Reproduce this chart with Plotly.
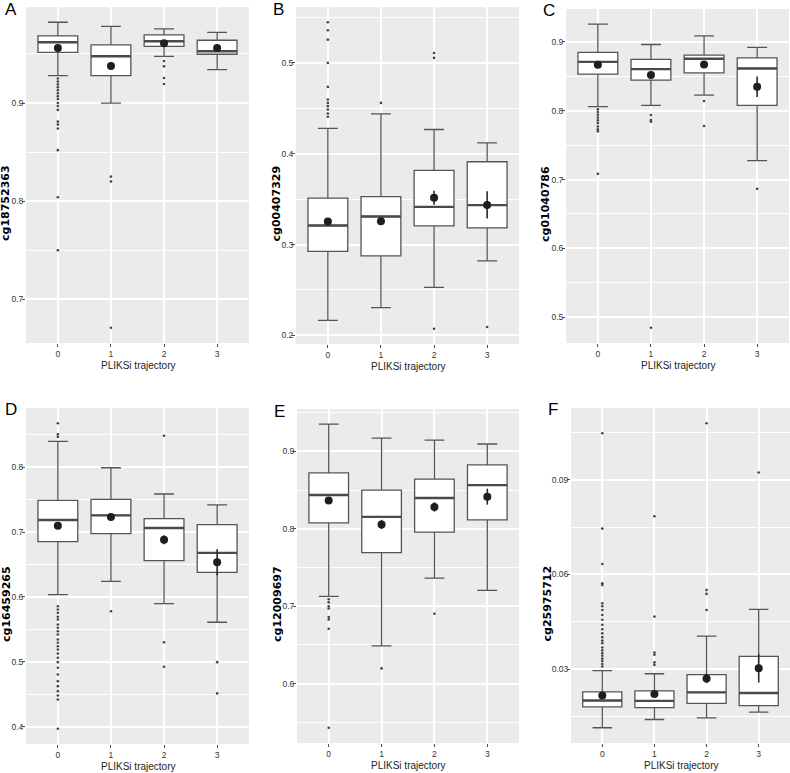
import plotly.graph_objects as go

W, H = 790, 773

cats = [0, 1, 2, 3]
x_title = "PLIKSi trajectory"
letters = ["A", "B", "C", "D", "E", "F"]
y_titles = ["cg18752363", "cg00407329", "cg01040786",
            "cg16459265", "cg12009697", "cg25975712"]

# panel A
a_q1 = [0.9517, 0.9279, 0.9578, 0.9497]
a_med = [0.9619, 0.9476, 0.9630, 0.9527]
a_q3 = [0.9684, 0.9592, 0.9694, 0.9640]
a_lo = [0.9280, 0.9000, 0.9476, 0.9340]
a_hi = [0.9823, 0.9782, 0.9755, 0.9721]
a_mean = [0.9561, 0.9378, 0.9609, 0.9561]
a_se = [0.0015, 0.003, 0.002, 0.002]
a_out = [[0.925, 0.922, 0.919, 0.916, 0.913, 0.910, 0.907, 0.904, 0.900,
          0.897, 0.893, 0.881, 0.878, 0.874, 0.852, 0.804, 0.750],
         [0.825, 0.820, 0.671],
         [0.9429, 0.9374, 0.9255, 0.9194],
         []]

# panel B
b_q1 = [0.2926, 0.2875, 0.3206, 0.3184]
b_med = [0.3210, 0.3309, 0.3415, 0.3434]
b_q3 = [0.3511, 0.3529, 0.3816, 0.3912]
b_lo = [0.2165, 0.2305, 0.2529, 0.2820]
b_hi = [0.428, 0.444, 0.4267, 0.412]
b_mean = [0.3254, 0.3257, 0.3515, 0.3437]
b_se = [0.003, 0.004, 0.0077, 0.015]
b_out = [[0.4407, 0.4443, 0.4487, 0.4524, 0.456, 0.4597, 0.4736, 0.500,
          0.5256, 0.5359, 0.5447],
         [0.456],
         [0.511, 0.5055, 0.2074],
         [0.2092]]

# panel C
c_q1 = [0.8532, 0.8445, 0.8551, 0.8078]
c_med = [0.8710, 0.8604, 0.8754, 0.8614]
c_q3 = [0.8846, 0.8745, 0.8807, 0.8768]
c_lo = [0.8058, 0.8078, 0.8227, 0.7275]
c_hi = [0.9257, 0.8962, 0.9087, 0.8919]
c_mean = [0.8667, 0.8517, 0.8672, 0.8348]
c_se = [0.002, 0.004, 0.004, 0.015]
c_out = [[0.802, 0.798, 0.794, 0.790, 0.786, 0.782, 0.777, 0.773, 0.770, 0.7083],
         [0.7938, 0.7865, 0.7841, 0.4846],
         [0.8141, 0.7778],
         [0.6865]]

# panel D
d_q1 = [0.6854, 0.6977, 0.6561, 0.6380]
d_med = [0.7188, 0.7259, 0.7065, 0.6680]
d_q3 = [0.7490, 0.7505, 0.7208, 0.7116]
d_lo = [0.6037, 0.6242, 0.5898, 0.5610]
d_hi = [0.8400, 0.7994, 0.7589, 0.7420]
d_mean = [0.7100, 0.7234, 0.6884, 0.6535]
d_se = [0.004, 0.003, 0.007, 0.02]
d_out = [[0.868, 0.851, 0.847, 0.5857, 0.5806, 0.5755, 0.5693, 0.5652, 0.5575,
          0.5524, 0.5472, 0.5421, 0.5344, 0.5293, 0.524, 0.519, 0.5128, 0.5062,
          0.4994, 0.4907, 0.4804, 0.4701, 0.4624, 0.4547, 0.448, 0.4419, 0.3967],
         [0.578],
         [0.8487, 0.5302, 0.4923],
         [0.4994, 0.4512]]

# panel E
e_q1 = [0.8077, 0.7692, 0.7958, 0.8115]
e_med = [0.8436, 0.8154, 0.8397, 0.8564]
e_q3 = [0.8723, 0.8500, 0.8641, 0.8826]
e_lo = [0.7128, 0.6487, 0.7364, 0.7205]
e_hi = [0.9351, 0.9172, 0.9146, 0.9095]
e_mean = [0.8364, 0.8056, 0.8282, 0.8415]
e_se = [0.004, 0.006, 0.006, 0.0103]
e_out = [[0.709, 0.705, 0.700, 0.697, 0.686, 0.683, 0.671, 0.543],
         [0.6197],
         [0.6903],
         []]

# panel F
f_q1 = [0.0180, 0.01778, 0.0191, 0.0184]
f_med = [0.0200, 0.0199, 0.0226, 0.0224]
f_q3 = [0.02274, 0.02305, 0.0282, 0.0340]
f_lo = [0.01137, 0.0140, 0.0145, 0.0163]
f_hi = [0.0295, 0.0285, 0.0404, 0.0489]
f_mean = [0.02157, 0.0221, 0.0270, 0.0302]
f_se = [0.0005, 0.0008, 0.0015, 0.0045]
f_out = [[0.0308, 0.0316, 0.0325, 0.0333, 0.0342, 0.035, 0.0359, 0.0368, 0.0382,
          0.039, 0.0401, 0.0413, 0.0426, 0.044, 0.0456, 0.0471, 0.0487, 0.0499,
          0.0508, 0.0566, 0.0572, 0.0633, 0.0745, 0.1047],
         [0.0313, 0.0321, 0.0345, 0.0352, 0.0466, 0.0784],
         [0.0487, 0.0538, 0.055, 0.1079],
         [0.0923]]

panels = [
    (a_q1, a_med, a_q3, a_lo, a_hi, a_mean, a_se, a_out),
    (b_q1, b_med, b_q3, b_lo, b_hi, b_mean, b_se, b_out),
    (c_q1, c_med, c_q3, c_lo, c_hi, c_mean, c_se, c_out),
    (d_q1, d_med, d_q3, d_lo, d_hi, d_mean, d_se, d_out),
    (e_q1, e_med, e_q3, e_lo, e_hi, e_mean, e_se, e_out),
    (f_q1, f_med, f_q3, f_lo, f_hi, f_mean, f_se, f_out),
]
y_dticks = [0.1, 0.1, 0.1, 0.1, 0.1, 0.03]

# plot area in pixels: left, right, top, bottom
panel_px = [(26, 249, 7, 343), (296, 519, 7, 344), (566, 789, 9, 343),
            (26, 249, 408, 744), (297, 519, 409, 743), (571, 790, 408, 743)]
# distance of the y title from the plot area
title_gap = [20, 20, 20, 20, 20, 24]

BG = "#EBEBEB"
LINE = "#555555"
TICK_FONT = dict(family="Liberation Sans, Arial", size=8.5, color="#333333")

fig = go.Figure()
layout = {}
annotations = []

for i, (q1, med, q3, lo, hi, mean, se, out) in enumerate(panels):
    n = "" if i == 0 else str(i + 1)
    xa, ya = "x" + n, "y" + n
    left, right, top, bot = panel_px[i]

    fig.add_trace(go.Box(
        x=cats, q1=q1, median=med, q3=q3, lowerfence=lo, upperfence=hi,
        orientation="v", width=0.75, boxpoints=False,
        fillcolor="white", line=dict(color=LINE, width=1.3),
        xaxis=xa, yaxis=ya, showlegend=False, hoverinfo="skip"))
    # thicker median line
    fig.add_trace(go.Box(
        x=cats, q1=med, median=med, q3=med, lowerfence=med, upperfence=med,
        orientation="v", width=0.75, boxpoints=False,
        fillcolor="rgba(0,0,0,0)", line=dict(color="#4A4A4A", width=2.4),
        xaxis=xa, yaxis=ya, showlegend=False, hoverinfo="skip"))

    ox, oy = [], []
    for c, vals in zip(cats, out):
        ox += [c] * len(vals)
        oy += vals
    fig.add_trace(go.Scatter(
        x=ox, y=oy, mode="markers",
        marker=dict(size=2.6, color="#444444"),
        xaxis=xa, yaxis=ya, showlegend=False, hoverinfo="skip"))

    fig.add_trace(go.Scatter(
        x=cats, y=mean, mode="markers",
        marker=dict(size=8, color="#1E1E1E"),
        error_y=dict(type="data", array=se, width=0, thickness=1.6, color="#2A2A2A"),
        xaxis=xa, yaxis=ya, showlegend=False, hoverinfo="skip"))

    allv = lo + hi + [v for g in out for v in g]
    vmin, vmax = min(allv), max(allv)
    pad = 0.05 * (vmax - vmin)

    layout["xaxis" + n] = dict(
        domain=[left / W, right / W], anchor=ya, range=[-0.6, 3.6],
        tickvals=cats, ticktext=[str(c) for c in cats],
        showgrid=True, gridcolor="white", gridwidth=1.8, zeroline=False,
        ticks="outside", ticklen=3, tickcolor="#4D4D4D", tickwidth=1,
        tickfont=TICK_FONT, showline=False)
    layout["yaxis" + n] = dict(
        domain=[1 - bot / H, 1 - top / H], anchor=xa,
        range=[vmin - pad, vmax + pad], dtick=y_dticks[i], tick0=0,
        showgrid=True, gridcolor="white", gridwidth=1.8, zeroline=False,
        minor=dict(dtick=y_dticks[i] / 2, showgrid=True, gridcolor="white", gridwidth=0.9),
        ticks="outside", ticklen=3, tickcolor="#4D4D4D", tickwidth=1,
        ticklabelstandoff=-3,
        tickfont=TICK_FONT, showline=False)

    # background of plot area
    fig.add_shape(type="rect", xref=xa + " domain", yref=ya + " domain",
                  x0=0, x1=1, y0=0, y1=1, fillcolor=BG, line_width=0, layer="below")

    # letter
    annotations.append(dict(
        text=letters[i], xref="paper", yref="paper",
        x=(left - 23 if i % 3 == 0 else left - 25) / W, y=1 - (top + 2) / H,
        xanchor="left", yanchor="middle", showarrow=False,
        font=dict(family="Liberation Sans, Arial", size=17, color="black")))
    # y title
    annotations.append(dict(
        text="<b>" + y_titles[i] + "</b>", xref="paper", yref="paper",
        x=(left - title_gap[i]) / W, y=1 - ((top + bot) / 2 + 28) / H,
        xanchor="center", yanchor="middle", textangle=-90, showarrow=False,
        borderpad=0,
        font=dict(family="DejaVu Sans", size=11, color="black")))
    # x title
    annotations.append(dict(
        text=x_title, xref="paper", yref="paper",
        x=(left + right) / 2 / W, y=1 - (bot + 22) / H,
        xanchor="center", yanchor="middle", showarrow=False,
        font=dict(family="Liberation Sans, Arial", size=10, color="#222222")))

fig.update_layout(
    width=W, height=H,
    margin=dict(l=0, r=0, t=0, b=0),
    paper_bgcolor="white", plot_bgcolor=BG,
    annotations=annotations,
    **layout)

fig.write_html("out.html", config={"displayModeBar": False},
               post_script="document.body.style.margin='0px';")
